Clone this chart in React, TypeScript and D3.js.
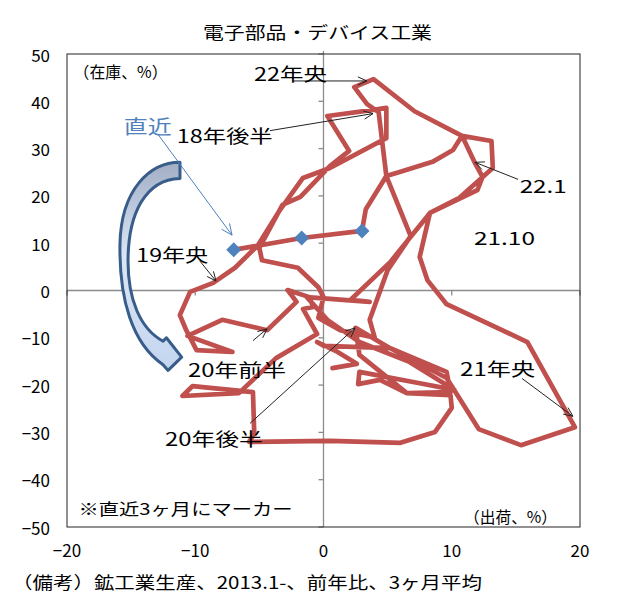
import * as d3 from 'd3';

const FONT = '"Noto Sans CJK JP", "Noto Sans", sans-serif';

const xTicks = [-20, -10, 0, 10, 20];
const yTicks = [50, 40, 30, 20, 10, 0, -10, -20, -30, -40, -50];

// 3ヶ月平均・前年比（%）、2013.1〜 の順
const shipments = [
  0.7, 2.6, 1.1, -0.5, 0.0, 5.2, 9.6, 9.9, 6.5, 4.4, 2.7, 2.8, 7.5, 10.2, 6.7, 2.8, 0.3, -1.3, 3.6, 2.1,
  5.2, 8.3, 10.6, 13.2, 13.1, 10.8, 10.1, 8.5, 6.0, 4.9, 6.8, 5.0, 3.6,
  4.0, 1.3, -0.4, 0.0,
  -0.4, -2.0, -4.8, -5.0, -3.2, -1.8, 0.5, 2.0, 0.3, 3.9, 4.9, 4.9,
  0.5, -1.6, -3.4, -5.1, -6.9, -8.6, -10.4, -11.2, -10.7, -9.9, -7.1, -10.6, -7.9,
  -4.4, -2.1, -2.8, -1.1, -0.8, -1.6, -0.5, -3.7, -6.6, -11.0, -10.2, -5.5, -5.4, -5.8, 0.5, 6.0, 8.7, 10.0, 9.9, 6.5, 2.8, 2.5,
  5.2, 9.6, 12.1, 15.4, 19.6, 15.9, 9.6, 8.1, 7.5, 8.3, 12.0, 12.4, 11.8, 10.8, 7.1, 3.9, 2.4, 3.4, 4.3, 4.9, 3.3, 3.0, -1.7, -7.0,
];
const inventory = [
  -16.4, -15.5, -13.0, -10.9, -11.7, -12.2, -17.2, -21.5, -21.7, -18.9, -19.8, -17.2, -19.6, -21.0, -15.1, -10.9, -6.2, -1.4, -2.4, -2.0,
  6.0, 16.4, 19.6, 25.9, 31.6, 32.7, 29.7, 27.2, 25.1, 24.2, 11.5, 4.3, -6.2,
  -10.0, -8.4, -5.8, -1.4,
  0.7, 4.8, 6.4, 9.0, 18.1, 19.8, 26.3, 29.5, 36.9, 38.2, 38.6, 32.2,
  25.9, 23.8, 17.0, 9.6, 4.8, 1.6, -0.3, -5.2, -8.4, -12.6, -13.0, -9.6, -6.2,
  -8.4, -2.4, 0.1, -1.4, -3.5, -3.9, -9.2, -14.3, -21.7, -22.3, -20.2, -21.5, -30.3, -32.0, -31.8, -32.2, -29.9, -24.8, -22.1, -21.7, -13.6, -7.9,
  -12.2, -18.5, -29.3, -32.7, -28.9, -10.9, -2.9, 2.2, 7.1, 16.4, 21.2, 24.0, 27.0, 32.7, 37.9, 44.7, 43.0, 39.4, 37.7, 24.2, 17.2, 12.6, 11.1, 8.6,
];
const markerCount = 3;

// 注記ラベル（データ座標）
const labels = [
  { text: '22年央', x: -2.57, y: 46.0, w: 73 },
  { text: '18年後半', x: -7.7, y: 32.9, w: 96 },
  { text: '19年央', x: -11.79, y: 7.7, w: 72 },
  { text: '21.10', x: 14.11, y: 11.3, w: 61 },
  { text: '22.1', x: 17.13, y: 22.2, w: 47 },
  { text: '20年前半', x: -6.74, y: -16.5, w: 98 },
  { text: '20年後半', x: -8.54, y: -31.1, w: 98 },
  { text: '21年央', x: 13.57, y: -16.3, w: 75 },
];

const pointers = [
  { x1: -2.38, y1: 44.3, x2: 3.39, y2: 44.3 },
  { x1: -4.17, y1: 33.8, x2: 3.86, y2: 37.4 },
  { x1: -9.63, y1: 6.2, x2: -8.38, y2: 2.0 },
  { x1: 15.17, y1: 23.5, x2: 11.81, y2: 27.1 },
  { x1: -5.5, y1: -10.6, x2: -4.4, y2: -8.1 },
  { x1: -5.73, y1: -28.1, x2: 2.46, y2: -7.9 },
  { x1: 15.48, y1: -18.6, x2: 19.45, y2: -26.6 },
];

function head(x1: number, y1: number, x2: number, y2: number, len = 10, spread = 0.42) {
  const a = Math.atan2(y2 - y1, x2 - x1);
  const p1 = [x2 - len * Math.cos(a - spread), y2 - len * Math.sin(a - spread)];
  const p2 = [x2 - len * Math.cos(a + spread), y2 - len * Math.sin(a + spread)];
  return `M${p1[0]},${p1[1]}L${x2},${y2}L${p2[0]},${p2[1]}`;
}

export default function App() {
  const W = 630;
  const H = 613;
  const x = d3.scaleLinear().domain([-20, 20]).range([67, 580]);
  const y = d3.scaleLinear().domain([-50, 50]).range([527, 54]);

  const pts: [number, number][] = shipments.map((s, i) => [s, inventory[i]]);
  const line = d3.line<[number, number]>().x((d) => x(d[0])).y((d) => y(d[1]));
  const recent = pts.slice(-markerCount);

  const P = (a: number, b: number) => `${x(a)},${y(b)}`;
  // 反時計回りを示す曲がった矢印
  const bend =
    `M${P(-11.19, 27.1)}` +
    `C${P(-13.53, 27.1)} ${P(-15.79, 21.4)} ${P(-15.87, 9.8)}` +
    `C${P(-15.94, -1.8)} ${P(-14.93, -11.2)} ${P(-12.51, -15.7)}` +
    `L${P(-12.12, -16.9)}L${P(-11.06, -14.1)}L${P(-12.25, -10.0)}L${P(-12.51, -10.7)}` +
    `C${P(-14.31, -8.1)} ${P(-15.24, -1.8)} ${P(-15.24, 6.2)}` +
    `C${P(-15.24, 16.1)} ${P(-13.92, 23.5)} ${P(-11.19, 23.7)}Z`;

  const blueFrom = [x(-12.9), y(33.0)];
  const blueTo = [x(-7.13), y(11.7)];

  return (
    <div style={{ position: 'absolute', left: 0, top: 0 }}>
      <svg width={W} height={H} style={{ display: 'block', background: '#fff' }} fontFamily={FONT}>
        <defs>
          <linearGradient id="bendFill" x1="0" x2="0" y1="0" y2="1">
            <stop offset="0%" stopColor="#A3AEC4" />
            <stop offset="18%" stopColor="#B7C4DA" />
            <stop offset="45%" stopColor="#DCE6F4" />
            <stop offset="100%" stopColor="#C3D5EF" />
          </linearGradient>
        </defs>

        <text x={317.5} y={31} textAnchor="middle" dominantBaseline="central" fontSize={17}
          textLength={229} lengthAdjust="spacingAndGlyphs">電子部品・デバイス工業</text>

        {/* zero axes */}
        <line x1={x(-20)} x2={x(20)} y1={y(0)} y2={y(0)} stroke="#8C8C8C" strokeWidth={1.3} />
        <line x1={x(0)} x2={x(0)} y1={y(50) - 3} y2={y(-50)} stroke="#8C8C8C" strokeWidth={1.3} />
        {yTicks.map((v) => (
          <line key={'yt' + v} x1={x(0) - 5} x2={x(0)} y1={y(v)} y2={y(v)} stroke="#8C8C8C" strokeWidth={1.3} />
        ))}
        {xTicks.map((v) => (
          <line key={'xt' + v} x1={x(v)} x2={x(v)} y1={y(0)} y2={y(0) + 5} stroke="#8C8C8C" strokeWidth={1.3} />
        ))}

        <rect x={x(-20)} y={y(50)} width={x(20) - x(-20)} height={y(-50) - y(50)} fill="none" stroke="#222" strokeWidth={1} />

        {yTicks.map((v) => (
          <text key={'yl' + v} x={50} y={y(v)} textAnchor="end" dominantBaseline="central" fontSize={17}>
            {v < 0 ? '−' + Math.abs(v) : v}
          </text>
        ))}
        {xTicks.map((v) => (
          <text key={'xl' + v} x={x(v)} y={549} textAnchor="middle" dominantBaseline="central" fontSize={17}>
            {v < 0 ? '−' + Math.abs(v) : v}
          </text>
        ))}

        <path d={bend} fill="url(#bendFill)" stroke="#385D8A" strokeWidth={3} strokeLinejoin="round" />

        <path d={line(pts) ?? ''} fill="none" stroke="#C0504D" strokeWidth={4.7} strokeLinejoin="round" strokeLinecap="round" />

        {recent.map((d, i) => {
          const cx = x(d[0]);
          const cy = y(d[1]);
          const r = 7.5;
          return (
            <path key={'m' + i} d={`M${cx},${cy - r}L${cx + r},${cy}L${cx},${cy + r}L${cx - r},${cy}Z`} fill="#4F81BD" />
          );
        })}

        {pointers.map((p, i) => {
          const x1 = x(p.x1), y1 = y(p.y1), x2 = x(p.x2), y2 = y(p.y2);
          return (
            <g key={'p' + i} stroke="#222" strokeWidth={1} fill="none">
              <line x1={x1} y1={y1} x2={x2} y2={y2} />
              <path d={head(x1, y1, x2, y2)} />
            </g>
          );
        })}

        <g stroke="#4F81BD" strokeWidth={1} fill="none">
          <line x1={blueFrom[0]} y1={blueFrom[1]} x2={blueTo[0]} y2={blueTo[1]} />
          <path d={head(blueFrom[0], blueFrom[1], blueTo[0], blueTo[1], 12)} />
        </g>
        <text x={x(-13.7)} y={y(34.8)} textAnchor="middle" dominantBaseline="central" fontSize={19}
          fill="#4F81BD" textLength={48} lengthAdjust="spacingAndGlyphs">直近</text>

        {labels.map((l) => (
          <text key={l.text} x={x(l.x)} y={y(l.y)} textAnchor="middle" dominantBaseline="central" fontSize={18}
            textLength={l.w} lengthAdjust="spacingAndGlyphs">{l.text}</text>
        ))}

        <text x={x(-19.49)} y={y(46.4)} dominantBaseline="central" fontSize={16}
          textLength={94} lengthAdjust="spacingAndGlyphs">（在庫、%）</text>
        <text x={x(-19.1)} y={y(-46.0)} dominantBaseline="central" fontSize={16}
          textLength={214} lengthAdjust="spacingAndGlyphs">※直近3ヶ月にマーカー</text>
        <text x={x(18.21)} y={y(-47.7)} textAnchor="end" dominantBaseline="central" fontSize={16}
          textLength={93} lengthAdjust="spacingAndGlyphs">（出荷、%）</text>

        <text x={12} y={581} dominantBaseline="central" fontSize={17}
          textLength={470} lengthAdjust="spacingAndGlyphs">（備考）鉱工業生産、2013.1-、前年比、3ヶ月平均</text>
      </svg>
    </div>
  );
}
